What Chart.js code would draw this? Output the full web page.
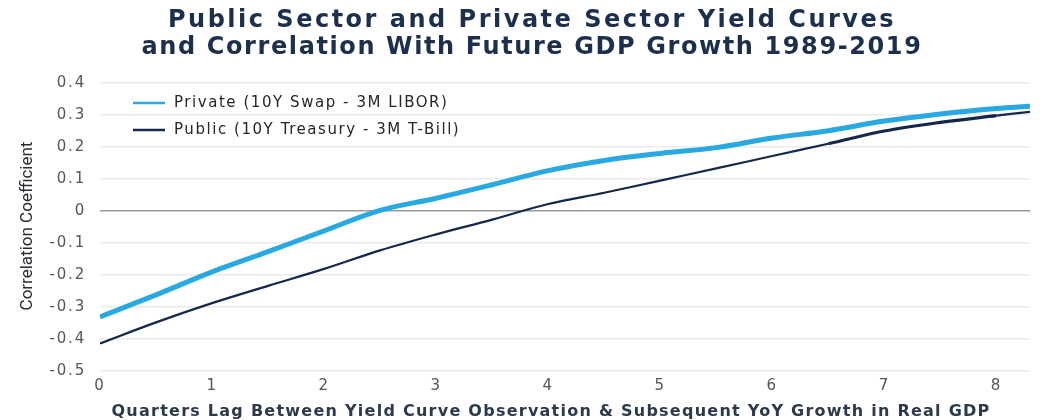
<!DOCTYPE html>
<html>
<head>
<meta charset="utf-8">
<title>Yield Curves and GDP Growth Correlation</title>
<script src="https://cdn.jsdelivr.net/npm/chart.js@4.4.1/dist/chart.umd.min.js"></script>
<style>
  html, body { margin: 0; padding: 0; background: #fff; }
  #wrap { width: 1048px; height: 420px; }
</style>
</head>
<body>
<div id="wrap"><canvas id="myChart" width="1048" height="420"></canvas></div>
<script>
// quarters of lag between the curve reading and the GDP growth window
const lagQuarters = [0, 0.5, 1, 1.5, 2, 2.5, 3, 3.5, 4, 4.5, 5, 5.5, 6, 6.5, 7, 7.5, 8, 8.3];

// 10Y swap minus 3M LIBOR
const privateCorr = [-0.331, -0.262, -0.19, -0.127, -0.062, 0.002, 0.04, 0.082, 0.126, 0.158,
  0.18, 0.198, 0.228, 0.251, 0.281, 0.303, 0.32, 0.327];

// 10Y treasury minus 3M T-bill
const publicCorr = [-0.414, -0.348, -0.288, -0.234, -0.181, -0.123, -0.073, -0.027, 0.022, 0.057,
  0.095, 0.133, 0.172, 0.21, 0.25, 0.277, 0.298, 0.31];

const yTicks = [-0.5, -0.4, -0.3, -0.2, -0.1, 0, 0.1, 0.2, 0.3, 0.4];

const seriesNames = ['Private (10Y Swap - 3M LIBOR)', 'Public (10Y Treasury - 3M T-Bill)'];

const titleLines = [
  'Public Sector and Private Sector Yield Curves',
  'and Correlation With Future GDP Growth 1989-2019'
];
const titleSpacing = ['2.5px', '1.6px'];
const xTitle = 'Quarters Lag Between Yield Curve Observation & Subsequent YoY Growth in Real GDP';
const yTitle = 'Correlation Coefficient';

const LIGHT_BLUE = '#29a9e1';
const NAVY = '#14284b';

function toPoints(values) {
  return lagQuarters.map((q, i) => ({ x: q, y: values[i] }));
}

// the house font is wide, so spread the letters a little
const spacedText = {
  id: 'spacedText',
  beforeDraw(chart) {
    chart.ctx.letterSpacing = '1.8px';   // tick labels
  },
  afterDraw(chart) {
    const ctx = chart.ctx;
    const area = chart.chartArea;
    ctx.save();

    // title
    ctx.font = 'bold 24px "DejaVu Sans"';
    ctx.fillStyle = '#1c2f4d';
    ctx.textAlign = 'center';
    ctx.textBaseline = 'alphabetic';
    titleLines.forEach((line, i) => {
      ctx.letterSpacing = titleSpacing[i];
      ctx.fillText(line, 532, 27 + i * 27);
    });

    // x axis title
    ctx.letterSpacing = '1.25px';
    ctx.font = 'bold 16px "DejaVu Sans"';
    ctx.fillStyle = '#2c3a4c';
    ctx.fillText(xTitle, 551, 416);

    // y axis title
    ctx.letterSpacing = '0px';
    ctx.save();
    ctx.translate(28, 226);
    ctx.rotate(-Math.PI / 2);
    ctx.font = '17px Roboto';
    ctx.fillStyle = '#2b2b35';
    ctx.textBaseline = 'middle';
    ctx.fillText(yTitle, 0, 0);
    ctx.restore();

    // legend inside the plot, top-left
    const left = area.left + 33;
    const top = area.top + 20;
    ctx.letterSpacing = '1.55px';
    ctx.font = '15px "DejaVu Sans"';
    ctx.textAlign = 'left';
    ctx.textBaseline = 'middle';
    chart.data.datasets.forEach((ds, i) => {
      const y = top + i * 27;
      ctx.strokeStyle = ds.borderColor;
      ctx.lineWidth = ds.legendWidth;
      ctx.beginPath();
      ctx.moveTo(left, y);
      ctx.lineTo(left + 32, y);
      ctx.stroke();
      ctx.fillStyle = '#262626';
      ctx.fillText(ds.label, left + 41, y);
    });

    ctx.restore();
    ctx.letterSpacing = '0px';
  }
};

const data = {
  datasets: [{
    label: seriesNames[0],
    data: toPoints(privateCorr),
    borderColor: LIGHT_BLUE,
    backgroundColor: LIGHT_BLUE,
    borderWidth: 5,
    legendWidth: 2.5,
    pointRadius: 0,
    tension: 0.35,
    order: 2,
  }, {
    label: seriesNames[1],
    data: toPoints(publicCorr),
    borderColor: NAVY,
    backgroundColor: NAVY,
    borderWidth: 2.2,
    legendWidth: 2.5,
    pointRadius: 0,
    tension: 0.35,
    order: 1,
    segment: {
      borderWidth: c => (c.p0.parsed.x >= 6.5 && c.p0.parsed.x < 8 ? 3.2 : 2.2),
    },
  }]
};

const config = {
  type: 'line',
  data: data,
  options: {
    responsive: false,
    animation: false,
    layout: { padding: { left: 0, right: 18, top: 83, bottom: 0 } },
    scales: {
      x: {
        type: 'linear',
        min: 0,
        max: 8.3,
        border: { display: false },
        grid: { display: false, drawTicks: false },
        ticks: {
          stepSize: 1,
          includeBounds: false,
          padding: 6,
          color: '#555555',
          font: { family: 'DejaVu Sans', size: 15 },
        },
        afterFit(scale) { scale.height = 49; },
      },
      y: {
        type: 'linear',
        min: -0.5,
        max: 0.4,
        border: { display: false },
        grid: {
          drawTicks: false,
          lineWidth: 1.5,
          color: ctx => (ctx.tick && ctx.tick.value === 0 ? '#9a9a9a' : '#ebebeb'),
        },
        afterBuildTicks(scale) {
          scale.ticks = yTicks.map(v => ({ value: v }));
        },
        ticks: {
          padding: 14,
          color: '#555555',
          font: { family: 'DejaVu Sans', size: 15 },
          callback: v => (v === 0 ? '0' : String(Math.round(v * 10) / 10)),
        },
        afterFit(scale) { scale.width = 100; },
      }
    },
    plugins: {
      legend: { display: false },
      tooltip: { enabled: false },
      title: { display: false },
    },
  },
  plugins: [spacedText],
};

const myChart = new Chart(
  document.getElementById('myChart'),
  config
);
</script>
</body>
</html>
